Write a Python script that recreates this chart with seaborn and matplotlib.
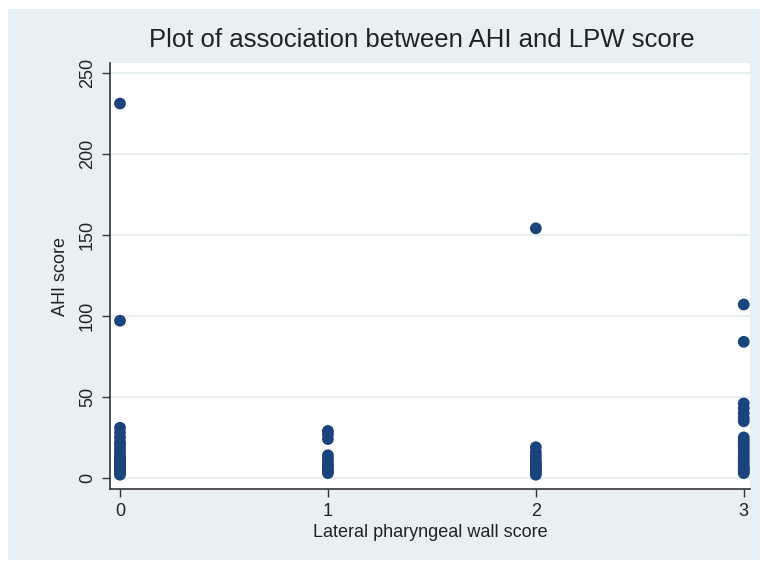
import pandas as pd
import numpy as np
import matplotlib.pyplot as plt
from matplotlib.patches import Rectangle
import seaborn as sns

## 값은 그림에서 읽어낸 추정치
lpw_0 = [231, 97, 31, 28, 25, 22, 20, 18, 16, 14, 13, 12, 11, 10, 9, 8, 7, 6, 5, 5, 4, 3, 3, 2]
lpw_1 = [29, 27, 24, 14, 12, 10, 8, 7, 5, 4, 3]
lpw_2 = [154, 19, 16, 14, 12, 10, 9, 8, 7, 6, 5, 4, 3, 2]
lpw_3 = [107, 84, 46, 43, 40, 37, 35, 25, 23, 21, 19, 17, 15, 13, 11, 9, 7, 6, 5, 4, 3]

x_ticks = [0, 1, 2, 3]
y_ticks = [0, 50, 100, 150, 200, 250]

df = pd.DataFrame({
    'LPW': [0] * len(lpw_0) + [1] * len(lpw_1) + [2] * len(lpw_2) + [3] * len(lpw_3),
    'AHI': lpw_0 + lpw_1 + lpw_2 + lpw_3,
})

sns.set_style('white')
plt.rcParams['font.family'] = ['Liberation Sans', 'DejaVu Sans']

bg = '#e8f0f3'
fig = plt.figure(figsize=(7.65, 5.64), dpi=100)
fig.patch.set_facecolor('white')
fig.patches.append(Rectangle((8 / 765, 4 / 564), 752 / 765, 551 / 564,
                             transform=fig.transFigure, facecolor=bg,
                             edgecolor='none', zorder=-10))

ax = fig.add_axes([110 / 765, 1 - 489 / 564, 640 / 765, 426 / 564])
ax.set_facecolor('white')

sns.scatterplot(x='LPW', y='AHI', data=df, ax=ax, color='#1b437c',
                s=72, edgecolor='none', linewidth=0, zorder=3)

ax.set_xlim(-0.048, 3.03)
ax.set_ylim(-6.8, 256)
ax.set_xticks(x_ticks)
ax.set_yticks(y_ticks)
ax.set_yticklabels([str(v) for v in y_ticks], rotation=90, va='center')
ax.yaxis.grid(True, color='#e3ecef', linewidth=1.2)
ax.xaxis.grid(False)
ax.tick_params(axis='both', direction='out', length=6, width=1,
               color='#333333', labelsize=13, labelcolor='#222222', pad=4)
ax.tick_params(axis='x', bottom=True)
ax.tick_params(axis='y', left=True)

for side in ['top', 'right']:
    ax.spines[side].set_visible(False)
for side in ['left', 'bottom']:
    ax.spines[side].set_color('#333333')
    ax.spines[side].set_linewidth(1.2)

ax.set_xlabel('Lateral pharyngeal wall score', fontsize=13, color='#222222', labelpad=3)
ax.set_ylabel('AHI score', fontsize=13, color='#222222', labelpad=7)
fig.text(422 / 765, 1 - 40 / 564, 'Plot of association between AHI and LPW score',
         ha='center', va='center', fontsize=18.5, color='#222222')

fig.savefig('out.png', dpi=100)
